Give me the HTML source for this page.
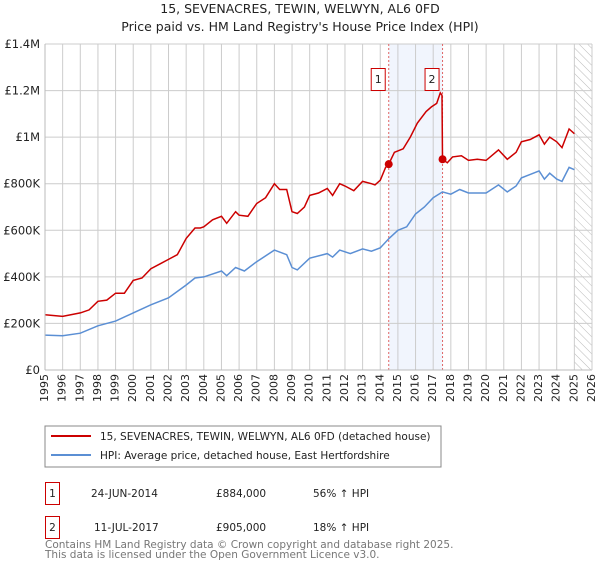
<!DOCTYPE html>
<html><head><meta charset="utf-8">
<style>
body{margin:0;background:#fff;font-family:"Liberation Sans","DejaVu Sans",sans-serif;}
svg text{font-family:"DejaVu Sans","Liberation Sans",sans-serif;}
</style></head>
<body>
<svg id="c" width="600" height="560" xmlns="http://www.w3.org/2000/svg">
<defs>
<pattern id="hatch" width="6" height="6" patternUnits="userSpaceOnUse" patternTransform="rotate(-45)">
<line x1="0" y1="0" x2="0" y2="6" stroke="#bbb" stroke-width="1"/>
</pattern>
</defs>
<text x="300" y="13" text-anchor="middle" font-size="12.5" fill="#222">15, SEVENACRES, TEWIN, WELWYN, AL6 0FD</text>
<text x="300" y="31" text-anchor="middle" font-size="12.5" fill="#222">Price paid vs. HM Land Registry's House Price Index (HPI)</text>
<g id="grid"></g>
<g id="marks"></g>
<g id="axes"></g>
<rect x="45" y="426" width="396" height="41" fill="#fff" stroke="#888"/>
<line x1="51" y1="436" x2="91" y2="436" stroke="#cc0000" stroke-width="2"/>
<text x="100" y="440" font-size="10.5" fill="#222">15, SEVENACRES, TEWIN, WELWYN, AL6 0FD (detached house)</text>
<line x1="51" y1="455" x2="91" y2="455" stroke="#5b8fd4" stroke-width="2"/>
<text x="100" y="459" font-size="10.5" fill="#222">HPI: Average price, detached house, East Hertfordshire</text>
<g>
<rect x="45.5" y="482.5" width="14" height="22" fill="#fff" stroke="#cc0000"/>
<text x="52.5" y="497" text-anchor="middle" font-size="10.5" fill="#222">1</text>
<text x="91" y="497" font-size="10.5" fill="#222">24-JUN-2014</text>
<text x="216" y="497" font-size="10.5" fill="#222">£884,000</text>
<text x="313" y="497" font-size="10.5" fill="#222">56% ↑ HPI</text>
</g>
<g>
<rect x="45.5" y="516.5" width="14" height="22" fill="#fff" stroke="#cc0000"/>
<text x="52.5" y="531" text-anchor="middle" font-size="10.5" fill="#222">2</text>
<text x="94" y="531" font-size="10.5" fill="#222">11-JUL-2017</text>
<text x="216" y="531" font-size="10.5" fill="#222">£905,000</text>
<text x="313" y="531" font-size="10.5" fill="#222">18% ↑ HPI</text>
</g>
<text x="45" y="548" font-size="10.5" fill="#777">Contains HM Land Registry data © Crown copyright and database right 2025.</text>
<text x="45" y="558" font-size="10.5" fill="#777">This data is licensed under the Open Government Licence v3.0.</text>
</svg>
<script>
const yearTicks=[1995,1996,1997,1998,1999,2000,2001,2002,2003,2004,2005,2006,2007,2008,2009,2010,2011,2012,2013,2014,2015,2016,2017,2018,2019,2020,2021,2022,2023,2024,2025,2026];
const priceTicks=[0,200000,400000,600000,800000,1000000,1200000,1400000];
const priceTickLabels=["£0","£200K","£400K","£600K","£800K","£1M","£1.2M","£1.4M"];
const saleDates=[2014.48,2017.53];
const salePrices=[884000,905000];
const saleLabels=["1","2"];
const propT=[1995,1996,1997,1997.5,1998,1998.5,1999,1999.5,2000,2000.5,2001,2001.5,2002,2002.5,2003,2003.5,2003.8,2004,2004.5,2005,2005.3,2005.8,2006,2006.5,2007,2007.5,2008,2008.3,2008.7,2009,2009.3,2009.7,2010,2010.5,2011,2011.3,2011.7,2012,2012.5,2013,2013.5,2013.7,2014,2014.3,2014.48,2014.8,2015.3,2015.7,2016.1,2016.6,2016.9,2017.2,2017.4,2017.5,2017.53,2017.8,2018.1,2018.6,2019,2019.5,2020,2020.7,2021.2,2021.7,2022,2022.5,2023,2023.3,2023.6,2024,2024.3,2024.7,2025];
const propV=[237,230,245,258,295,300,330,330,385,395,435,455,475,495,565,610,610,615,645,660,630,680,665,660,715,740,800,775,775,680,672,700,750,760,780,750,800,790,770,810,800,795,815,870,884,935,950,1000,1060,1110,1130,1145,1190,1180,905,890,915,920,900,905,900,945,905,935,980,990,1010,970,1000,980,955,1035,1015];
const hpiT=[1995,1996,1997,1998,1999,2000,2001,2002,2003,2003.5,2004,2005,2005.3,2005.8,2006.3,2007,2008,2008.7,2009,2009.3,2010,2011,2011.3,2011.7,2012.3,2013,2013.5,2014,2014.5,2015,2015.5,2016,2016.5,2017,2017.53,2018,2018.5,2019,2020,2020.7,2021.2,2021.7,2022,2022.5,2023,2023.3,2023.6,2024,2024.3,2024.7,2025];
const hpiV=[150,147,158,190,210,245,280,310,365,395,400,425,405,440,425,465,515,495,440,430,480,500,485,515,500,520,510,525,565,600,615,670,700,740,765,755,775,760,760,795,765,790,825,840,855,820,845,820,810,870,860];

const L=45,R=592,T=44,B=370,X0=1995,X1=2026,YMAX=1400000;
const xs=t=>L+(t-X0)/(X1-X0)*(R-L);
const ys=v=>B-v/YMAX*(B-T);
const NS="http://www.w3.org/2000/svg";
function mk(tag,attrs,parent){const e=document.createElementNS(NS,tag);for(const k in attrs)e.setAttribute(k,attrs[k]);parent.appendChild(e);return e;}
const grid=document.getElementById('grid'),marks=document.getElementById('marks'),axes=document.getElementById('axes');

let sh=mk('rect',{x:xs(saleDates[0]),y:T,width:xs(saleDates[1])-xs(saleDates[0]),height:B-T,fill:'#eef3fc',opacity:0.8},grid);


let ht=mk('rect',{x:xs(2025),y:T,width:R-xs(2025),height:B-T,fill:'url(#hatch)'},grid);



yearTicks.forEach(y=>{
  const l=mk('line',{x1:xs(y),x2:xs(y),y1:T,y2:B,stroke:'#ccc','stroke-width':1},grid);
  
  
  const t=mk('text',{x:xs(y),y:B+4,'font-size':11,fill:'#222','text-anchor':'end','dominant-baseline':'middle',transform:`rotate(-90 ${xs(y)} ${B+4})`},axes);
  t.textContent=y;
  
  
});
priceTicks.forEach((p,i)=>{
  const l=mk('line',{x1:L,x2:R,y1:ys(p),y2:ys(p),stroke:'#ccc','stroke-width':1},grid);
  
  
  const t=mk('text',{x:L-5,y:ys(p)+4,'font-size':11.5,fill:'#222','text-anchor':'end'},axes);
  t.textContent=priceTickLabels[i];
  
  
});
let ax=mk('line',{x1:L,x2:L,y1:T,y2:B,stroke:'#bbb'},axes);


let bx=mk('line',{x1:L,x2:R,y1:B,y2:B,stroke:'#bbb'},axes);



saleDates.forEach((d,i)=>{
  const l=mk('line',{x1:xs(d),x2:xs(d),y1:T,y2:B,stroke:'#e06666','stroke-dasharray':'2,2','stroke-width':1},marks);
  
  
});

const pts=(T_,V)=>T_.map((t,i)=>xs(t).toFixed(1)+','+ys(V[i]*1000).toFixed(1)).join(' ');
let hp=mk('polyline',{points:pts(hpiT,hpiV),fill:'none',stroke:'#5b8fd4','stroke-width':1.5},marks);


let pp=mk('polyline',{points:pts(propT,propV),fill:'none',stroke:'#cc0000','stroke-width':1.5},marks);



saleDates.forEach((d,i)=>{
  const c=mk('circle',{cx:xs(d),cy:ys(salePrices[i]),r:4,fill:'#cc0000'},marks);
  
  
  const g=mk('g',{},marks);
  
  
  mk('rect',{x:xs(d)-17.5,y:68.5,width:14,height:22,fill:'#fff',stroke:'#cc0000'},g);
  const t=mk('text',{x:xs(d)-10.5,y:83,'font-size':11,fill:'#222','text-anchor':'middle'},g);
  t.textContent=saleLabels[i];
});
</script>
</body></html>
